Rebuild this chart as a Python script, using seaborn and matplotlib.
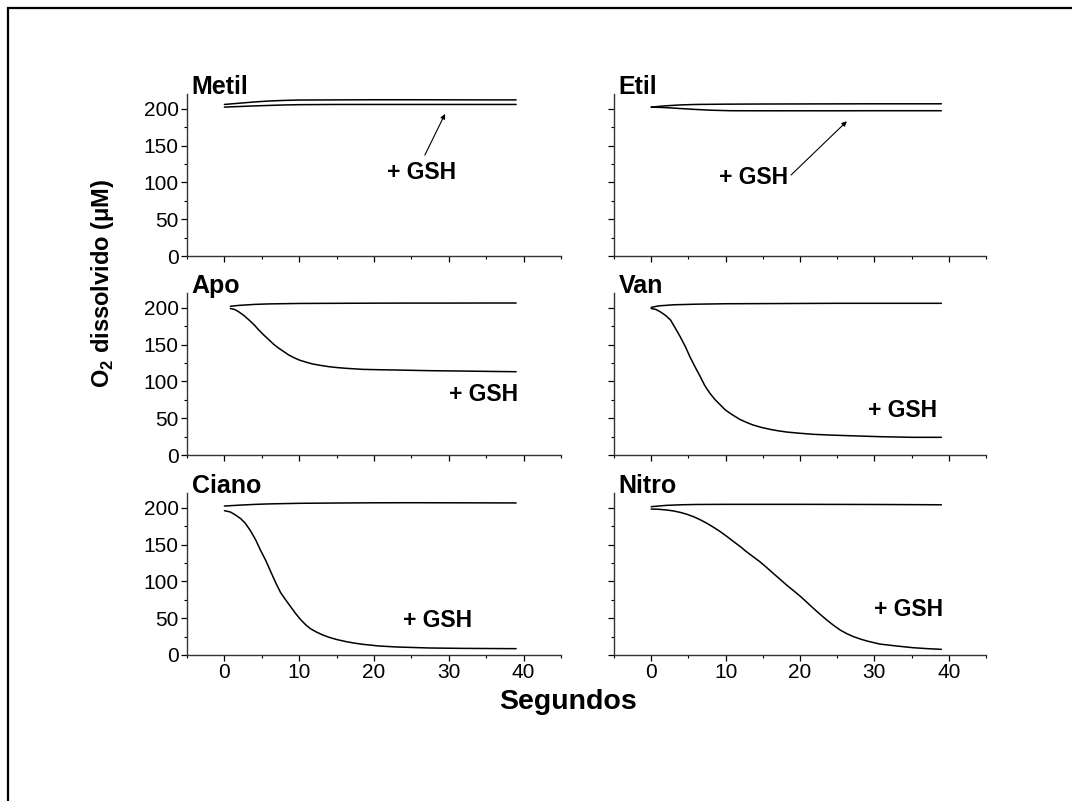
import numpy as np
import pandas as pd
import matplotlib
matplotlib.use("Agg")
import matplotlib.pyplot as plt
from matplotlib.ticker import MultipleLocator
from matplotlib.patches import Rectangle
import seaborn as sns

# Panel names (row-major order)
panels = ["Metil", "Etil", "Apo", "Van", "Ciano", "Nitro"]

# Control traces (time in s, dissolved O2 in uM)
metil_t_ctrl = [0, 2, 4, 6, 8, 10, 15, 20, 25, 30, 35, 39]
metil_y_ctrl = [205.8, 207.5, 209.2, 210.5, 211.3, 211.8, 212.0, 212.2, 212.2, 212.1, 212.0, 212.0]
etil_t_ctrl = [0, 2, 4, 6, 10, 15, 20, 25, 30, 35, 39]
etil_y_ctrl = [202.2, 204.0, 205.2, 205.8, 206.2, 206.4, 206.5, 206.6, 206.7, 206.7, 206.7]
apo_t_ctrl = [0.8, 2, 4, 6, 10, 15, 20, 25, 30, 35, 39]
apo_y_ctrl = [202.0, 203.2, 204.5, 205.2, 205.8, 206.0, 206.2, 206.3, 206.3, 206.4, 206.4]
van_t_ctrl = [0, 1, 3, 6, 10, 15, 20, 25, 30, 35, 39]
van_y_ctrl = [200.5, 202.5, 204.0, 204.8, 205.4, 205.6, 205.8, 206.0, 206.0, 206.0, 206.0]
ciano_t_ctrl = [0, 2, 4, 6, 10, 15, 20, 25, 30, 35, 39]
ciano_y_ctrl = [202.3, 203.5, 204.5, 205.2, 206.0, 206.4, 206.7, 206.8, 206.7, 206.6, 206.5]
nitro_t_ctrl = [0, 2, 4, 6, 10, 15, 20, 25, 30, 35, 39]
nitro_y_ctrl = [201.4, 203.2, 204.0, 204.4, 204.6, 204.6, 204.6, 204.5, 204.4, 204.2, 204.0]

# Traces after GSH addition
metil_t_gsh = [0, 2, 4, 6, 8, 10, 15, 20, 25, 30, 35, 39]
metil_y_gsh = [202.2, 203.0, 203.8, 204.5, 205.1, 205.5, 205.8, 205.8, 205.8, 205.8, 205.8, 205.8]
etil_t_gsh = [0, 2, 4, 6, 8, 10.6, 15, 20, 25, 30, 35, 39]
etil_y_gsh = [202.2, 201.5, 200.2, 199.0, 198.0, 197.3, 197.2, 197.2, 197.2, 197.3, 197.3, 197.3]
apo_t_gsh = [0.8, 1.4, 1.9, 2.6, 3.3, 4.0, 4.6, 5.3, 6.0, 6.6, 7.3, 8.0, 8.6, 9.3,
             10.0, 10.9, 11.8, 12.9, 14.0, 15.1, 16.3, 18.5, 20.7, 23.0, 27.5, 31.9, 36.4, 39.0]
apo_y_gsh = [199.0, 197.5, 194.6, 189.5, 183.3, 176.5, 169.7, 162.6, 156.0, 150.2, 144.8, 140.0, 135.8, 132.2,
             129.0, 126.1, 123.6, 121.6, 119.9, 118.7, 117.7, 116.3, 115.8, 115.4, 114.5, 114.0, 113.4, 113.1]
van_t_gsh = [0.0, 0.6, 1.2, 1.9, 2.6, 3.2, 3.9, 4.6, 5.2, 5.9, 6.6, 7.2, 7.9, 8.6, 9.3, 9.9,
             10.6, 11.3, 11.9, 12.8, 13.7, 14.8, 16.0, 17.1, 18.2, 20.0, 21.8, 24.0, 26.3, 30.7, 35.2, 39.0]
van_y_gsh = [199.0, 197.8, 194.6, 189.8, 183.3, 173.0, 160.6, 147.0, 133.5, 119.6, 106.3, 94.3, 83.7, 75.0, 67.9, 61.8,
             56.6, 52.2, 48.4, 44.3, 40.7, 37.5, 34.8, 32.8, 31.2, 29.5, 28.1, 27.1, 26.3, 24.9, 24.0, 24.0]
ciano_t_gsh = [0.0, 0.8, 1.5, 2.2, 2.8, 3.5, 4.2, 4.8, 5.5, 6.2, 6.9, 7.5, 8.2, 8.9, 9.5, 10.2,
               10.9, 11.5, 12.2, 13.1, 14.0, 15.1, 16.3, 17.4, 18.5, 20.7, 23.0, 27.5, 31.9, 39.0]
ciano_y_gsh = [196.0, 194.2, 190.0, 185.0, 178.8, 168.5, 156.0, 142.8, 129.0, 113.0, 97.3, 85.0, 74.7, 65.0, 56.6, 48.0,
               40.7, 35.8, 31.7, 27.4, 24.0, 20.8, 18.1, 16.1, 14.5, 12.2, 10.9, 9.5, 9.0, 8.6]
nitro_t_gsh = [0.0, 1.0, 2.1, 3.0, 3.9, 4.8, 5.7, 6.6, 7.5, 8.4, 9.3, 10.2, 11.1, 12.0, 12.8, 13.7,
               14.6, 15.5, 16.4, 17.3, 18.2, 19.1, 20.0, 20.9, 21.8, 22.7, 23.6, 24.5, 25.4, 26.3,
               27.2, 28.1, 29.0, 30.7, 33.0, 35.2, 37.0, 39.0]
nitro_y_gsh = [198.2, 197.9, 196.9, 195.6, 193.7, 191.1, 187.8, 183.6, 178.8, 173.3, 167.4, 160.8, 153.8, 147.0, 140.3, 133.5,
               126.7, 119.0, 110.9, 103.0, 95.0, 87.6, 80.1, 71.8, 63.4, 55.3, 47.5, 40.4, 33.9, 28.9,
               24.9, 21.7, 19.0, 14.9, 12.2, 9.9, 8.7, 7.7]

ctrl_traces = [(metil_t_ctrl, metil_y_ctrl), (etil_t_ctrl, etil_y_ctrl),
               (apo_t_ctrl, apo_y_ctrl), (van_t_ctrl, van_y_ctrl),
               (ciano_t_ctrl, ciano_y_ctrl), (nitro_t_ctrl, nitro_y_ctrl)]
gsh_traces = [(metil_t_gsh, metil_y_gsh), (etil_t_gsh, etil_y_gsh),
              (apo_t_gsh, apo_y_gsh), (van_t_gsh, van_y_gsh),
              (ciano_t_gsh, ciano_y_gsh), (nitro_t_gsh, nitro_y_gsh)]

# "+ GSH" label anchors (data coords)
gsh_label_xy = [(26.3, 114), (13.8, 107), (34.6, 81.5), (33.8, 61), (28.5, 46.5), (34.6, 62.4)]
# Arrows for the two upper panels: (tail, head)
gsh_arrows = {0: ((26.8, 137), (29.5, 193)), 1: ((18.8, 110), (26.3, 183))}

x_ticks = [0, 10, 20, 30, 40]
y_ticks = [0, 50, 100, 150, 200]

sns.set_theme(style="ticks")
plt.rcParams["font.family"] = ["Liberation Sans", "DejaVu Sans"]
plt.rcParams["text.color"] = "black"
plt.rcParams["axes.labelcolor"] = "black"
plt.rcParams["xtick.color"] = "black"
plt.rcParams["ytick.color"] = "black"
plt.rcParams["mathtext.fontset"] = "custom"
plt.rcParams["mathtext.rm"] = "Liberation Sans"
plt.rcParams["mathtext.bf"] = "Liberation Sans:bold"

W, H = 1072, 801
fig = plt.figure(figsize=(W / 100, H / 100), dpi=100)

col_left = [187, 614]
col_width = [374, 372]
row_bottom = [256, 455, 655]   # pixel y of the zero line
row_height = 162

for i, name in enumerate(panels):
    r, c = divmod(i, 2)
    ax = fig.add_axes([col_left[c] / W, 1 - row_bottom[r] / H,
                       col_width[c] / W, row_height / H])
    t_c, y_c = ctrl_traces[i]
    t_g, y_g = gsh_traces[i]
    sns.lineplot(x=t_c, y=y_c, ax=ax, color="black", lw=1.1, estimator=None, sort=False)
    sns.lineplot(x=t_g, y=y_g, ax=ax, color="black", lw=1.1, estimator=None, sort=False)

    ax.set_xlim(-5, 45)
    ax.set_ylim(0, 220)
    ax.set_xticks(x_ticks)
    ax.set_yticks(y_ticks)
    ax.xaxis.set_minor_locator(MultipleLocator(5))
    ax.yaxis.set_minor_locator(MultipleLocator(25))
    ax.tick_params(which="major", direction="out", length=4, width=0.9,
                   labelsize=15, pad=2, colors="black")
    ax.tick_params(which="minor", direction="out", length=2.2, width=0.8, colors="black")
    for s in ("top", "right"):
        ax.spines[s].set_visible(False)
    for s in ("left", "bottom"):
        ax.spines[s].set_color("#333333")
        ax.spines[s].set_linewidth(1.0)
    if r < 2:
        ax.tick_params(axis="x", labelbottom=False)
    if c == 1:
        ax.tick_params(axis="y", labelleft=False)
    ax.set_xlabel("")
    ax.set_ylabel("")

    ax.text(0.013, 1.0, name, transform=ax.transAxes, fontsize=18,
            fontweight="bold", ha="left", va="baseline", color="black")

    lx, ly = gsh_label_xy[i]
    ax.text(lx, ly, "+ GSH", fontsize=16.5, fontweight="bold",
            ha="center", va="center", color="black")
    if i in gsh_arrows:
        tail, head = gsh_arrows[i]
        ax.annotate("", xy=head, xytext=tail,
                    arrowprops=dict(arrowstyle="-|>", color="black", lw=0.8,
                                    mutation_scale=7, shrinkA=0, shrinkB=0))

fig.text(103 / W, 1 - 283 / H, r"O$_\mathbf{2}$ dissolvido ($\mathbf{\mu}$M)",
         rotation=90, fontsize=17, fontweight="bold", ha="center", va="center",
         color="black")
fig.text(568 / W, 1 - 702 / H, "Segundos", fontsize=20.5, fontweight="bold",
         ha="center", va="center", color="black")

# Outer frame
fig.patches.append(Rectangle((7.5 / W, -0.05), 1.2, 1 - 8 / H + 0.05,
                             transform=fig.transFigure, fill=False,
                             ec="black", lw=1.6, clip_on=False))

fig.savefig("out.png", dpi=100)
